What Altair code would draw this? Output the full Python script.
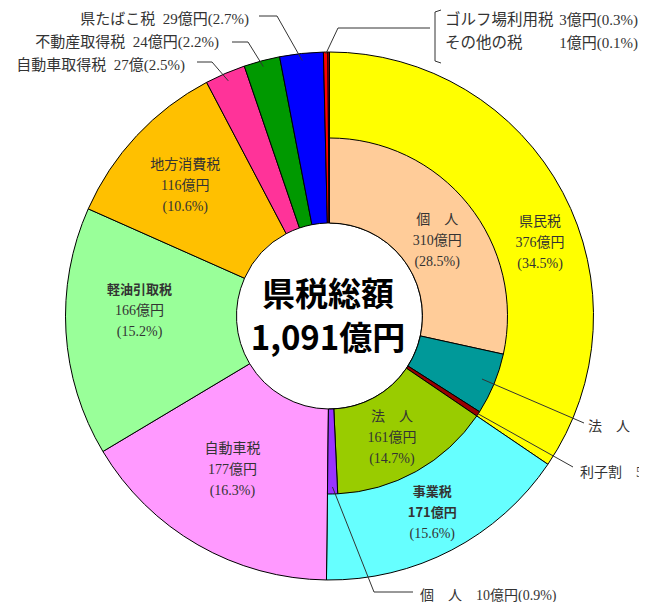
import math
import altair as alt
import pandas as pd

# ---------------- data ----------------
# outer ring (clockwise from 12 o'clock)
main_names = ["県民税", "事業税", "自動車税", "軽油引取税", "地方消費税",
              "自動車取得税", "不動産取得税", "県たばこ税", "ゴルフ場利用税", "その他の税"]
main_values = [376, 171, 177, 166, 116, 27, 24, 29, 3, 1]
main_colors = ["#FFFF00", "#66FFFF", "#FF99FF", "#99FF99", "#FFC000",
               "#FF3399", "#009900", "#0000FF", "#FF0000", "#FF0000"]

# inner ring: breakdown of 県民税 and 事業税
sub_keys = ["県民税・個人", "県民税・法人", "県民税・利子割", "事業税・法人", "事業税・個人"]
sub_values = [310, 61, 5, 161, 10]
sub_colors = ["#FFCC99", "#009999", "#990000", "#99CC00", "#9933FF"]

# labels inside slices: (slice, lines, bold flags)
in_keys = ["県民税", "県民税・個人", "事業税・法人", "事業税", "自動車税", "軽油引取税", "地方消費税"]
in_lines = [["県民税", "376億円", "(34.5%)"],
            ["個　人", "310億円", "(28.5%)"],
            ["法　人", "161億円", "(14.7%)"],
            ["事業税", "171億円", "(15.6%)"],
            ["自動車税", "177億円", "(16.3%)"],
            ["軽油引取税", "166億円", "(15.2%)"],
            ["地方消費税", "116億円", "(10.6%)"]]
in_bold = [[0, 0, 0], [0, 0, 0], [0, 0, 0], [1, 1, 0], [0, 0, 0], [1, 0, 0], [0, 0, 0]]
in_frac = [0.57, 0.54, 0.54, 0.50, 0.54, 0.59, 0.47]
in_rad = [223, 131, 137, 222, 182, 190, 194]

# labels outside the pie (page pixel anchors), with leader lines
out_keys = ["県たばこ税", "不動産取得税", "自動車取得税", "ゴルフ場利用税",
            "県民税・法人", "県民税・利子割", "事業税・個人"]
out_r = [257, 258, 256, 262, 165, 178, 171]
out_paths = [[(277, 16), (259, 16)], [(248, 42), (232, 42)], [(212, 62), (197, 62)],
             [(338, 28), (430, 28)], [(584, 423)], [(573, 467)], [(374, 592), (413, 592)]]

right_texts = ["県たばこ税\u200229億円(2.7%)", "不動産取得税\u200224億円(2.2%)",
               "自動車取得税\u200227億(2.5%)"]
right_pos = [(249, 19), (219, 42), (185, 65)]
left_texts = ["法　人　61億円(5.6%)", "利子割　5億円(0.5%)", "個　人　10億円(0.9%)"]
left_pos = [(588, 427), (580, 473), (420, 596)]
box_names = ["ゴルフ場利用税", "その他の税"]
box_names_pos = [(445, 20), (445, 43)]
box_amounts = ["3億円(0.3%)", "1億円(0.1%)"]
box_amounts_pos = [(638, 20), (638, 43)]
bracket = [(441, 10), (435, 12), (435, 61), (441, 63)]

center_lines = ["県税総額", "1,091億円"]

# ---------------- layout ----------------
W, H = 631, 594          # whole svg (no padding); page = view + 8
OFF = 8
CX, CY = 329.5 - OFF, 316 - OFF
R_HOLE, R_MID, R_OUT = 93, 178, 264
LH = 21
SERIF = "'Liberation Serif', 'Noto Sans CJK JP'"
GOTHIC = "'Noto Sans CJK JP'"
TXT = "#333333"

total = sum(main_values)
start, vals = {}, {}
acc = 0
for k, v in zip(main_names, main_values):
    start[k], vals[k] = acc, v
    acc += v
acc = 0
for k, v in zip(sub_keys, sub_values):
    start[k], vals[k] = acc, v
    acc += v

main_df = pd.DataFrame({"key": main_names, "value": main_values, "idx": range(len(main_names))})
sub_df = pd.DataFrame({"key": sub_keys, "value": sub_values, "idx": range(len(sub_keys))})

color_scale = alt.Scale(domain=main_names + sub_keys, range=main_colors + sub_colors)
cx, cy = alt.value(CX), alt.value(CY)

def ring(df, r_in, r_out):
    return alt.Chart(df).mark_arc(innerRadius=r_in, outerRadius=r_out, stroke="black",
                                  strokeWidth=1).encode(
        x=cx, y=cy,
        theta=alt.Theta("value:Q", stack=True),
        color=alt.Color("key:N", scale=color_scale, legend=None),
        order=alt.Order("idx:Q"),
    )

outer = ring(main_df, R_HOLE, R_OUT)
inner = ring(sub_df, R_HOLE, R_MID)

# in-slice labels, one row per line
rows = []
for k, lines, bold, f, r in zip(in_keys, in_lines, in_bold, in_frac, in_rad):
    n = len(lines)
    for i, (t, b) in enumerate(zip(lines, bold)):
        rows.append({"text": t, "lt": start[k] + f * vals[k], "lr": r,
                     "line": i - (n - 1) / 2, "bold": b})
lab_df = pd.DataFrame(rows)

label_layers = []
for (line, b), g in lab_df.groupby(["line", "bold"]):
    label_layers.append(
        alt.Chart(g).mark_text(
            font=GOTHIC if b else SERIF, fontSize=13 if b else 14,
            fontWeight="bold" if b else "normal", color=TXT, baseline="middle",
            dy=line * LH,
        ).encode(
            x=cx, y=cy,
            theta=alt.Theta("lt:Q", stack=False),
            radius=alt.Radius("lr:Q", scale=None),
            text="text:N",
        )
    )

# leader lines and bracket
lrows = []
for i, (k, r, path) in enumerate(zip(out_keys, out_r, out_paths)):
    a = (start[k] + vals[k] / 2) / total * 2 * math.pi
    pts = [(CX + r * math.sin(a), CY - r * math.cos(a))] + [(x - OFF, y - OFF) for x, y in path]
    for j, (x, y) in enumerate(pts):
        lrows.append({"id": i, "o": j, "x": x, "y": y})
for j, (x, y) in enumerate(bracket):
    lrows.append({"id": 99, "o": j, "x": x - OFF, "y": y - OFF})
lead_df = pd.DataFrame(lrows)

leaders = alt.Chart(lead_df).mark_line(color="#333333", strokeWidth=1).encode(
    x=alt.X("x:Q", scale=None, axis=None),
    y=alt.Y("y:Q", scale=None, axis=None),
    detail="id:N",
    order="o:Q",
)

def xy_text(texts, pos, align, size):
    df = pd.DataFrame({"text": texts, "x": [p[0] - OFF for p in pos],
                       "y": [p[1] - OFF for p in pos]})
    return alt.Chart(df).mark_text(font=SERIF, fontSize=size, color=TXT, align=align,
                                   baseline="middle").encode(
        x=alt.X("x:Q", scale=None, axis=None),
        y=alt.Y("y:Q", scale=None, axis=None),
        text="text:N",
    )

t_right = xy_text(right_texts, right_pos, "right", 15)
t_left = xy_text(left_texts, left_pos, "left", 14)
t_bn = xy_text(box_names, box_names_pos, "left", 15.5)
t_ba = xy_text(box_amounts, box_amounts_pos, "right", 15)

center_layers = []
for t, d in zip(center_lines, [-20, 24]):
    center_layers.append(
        alt.Chart(pd.DataFrame({"text": [t]})).mark_text(
            font=GOTHIC, fontSize=33, fontWeight="bold", color="black",
            baseline="middle", dy=d,
        ).encode(x=alt.value(CX - 1.5), y=cy, text="text:N")
    )

chart = alt.layer(outer, inner, leaders, *label_layers, t_right, t_left, t_bn, t_ba,
                  *center_layers).properties(
    width=W, height=H,
    autosize=alt.AutoSizeParams(type="none"),
    padding=0,
    background="white",
).configure_view(stroke=None)

chart.save("out.html", embed_options={"renderer": "svg", "actions": False})
